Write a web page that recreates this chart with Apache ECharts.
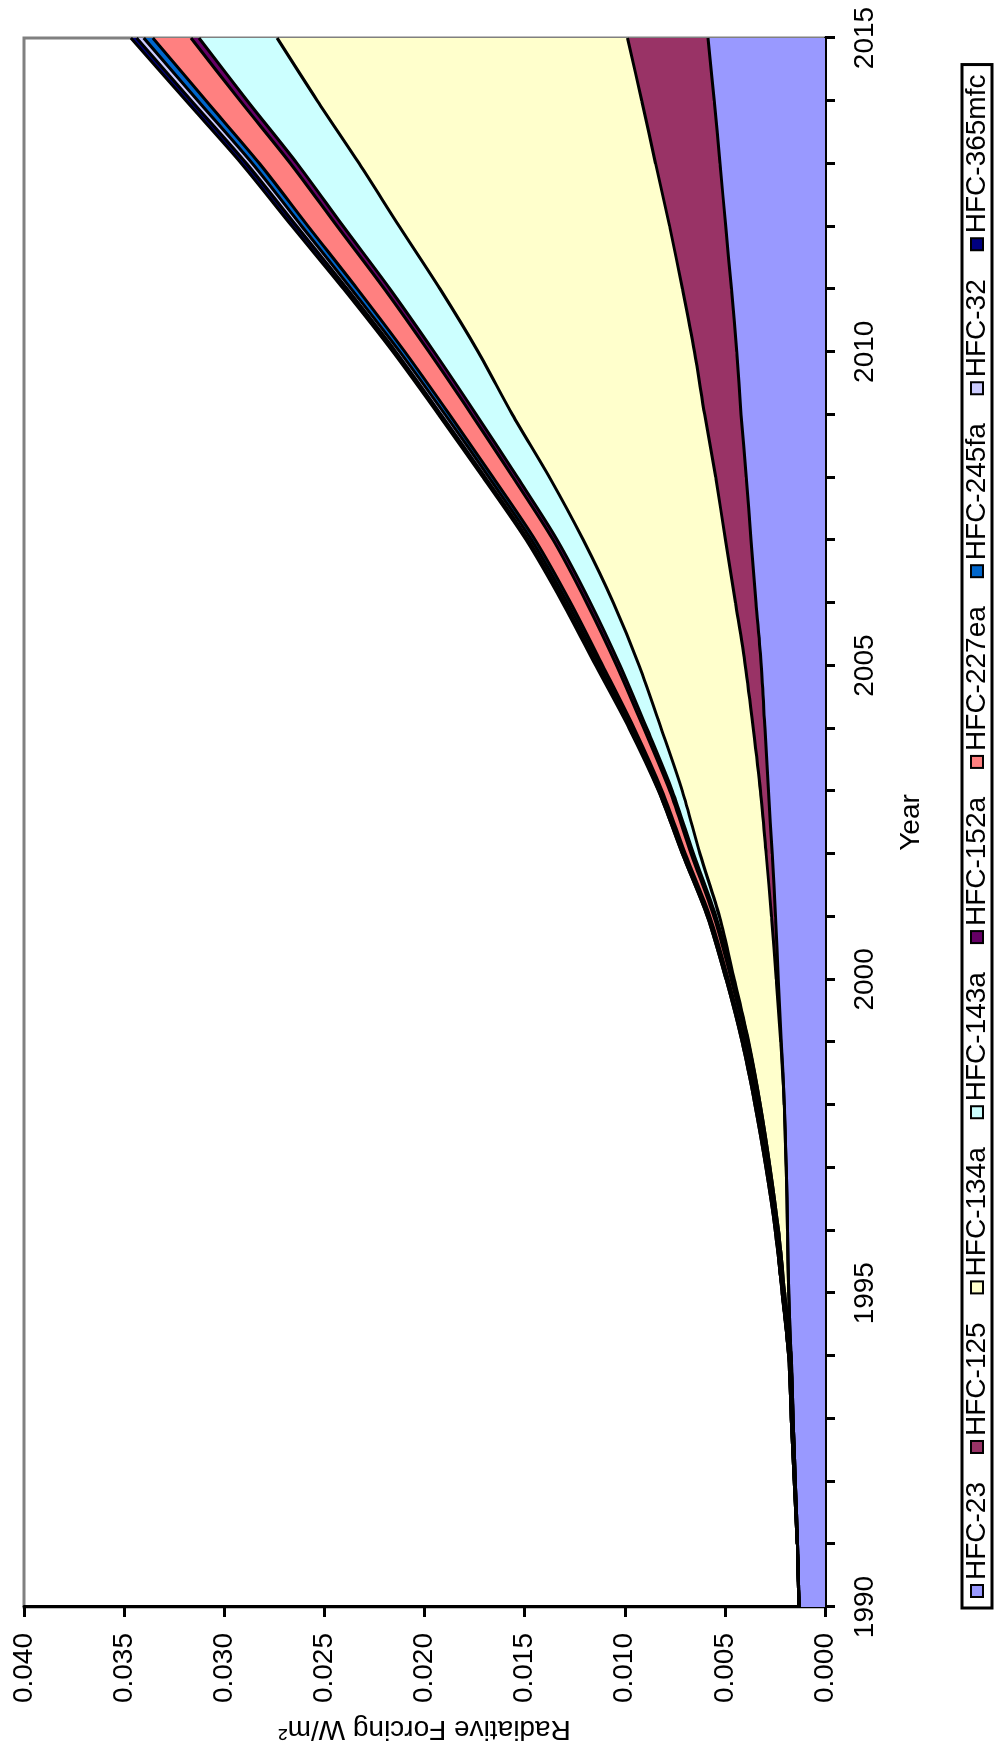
<!DOCTYPE html>
<html>
<head>
<meta charset="utf-8">
<script src="https://cdn.jsdelivr.net/npm/echarts@6/dist/echarts.min.js"></script>
<style>
  html, body { margin: 0; padding: 0; background: #fff; overflow: hidden; }
  #page { position: absolute; left: 0; top: 0; width: 1003px; height: 1753px; overflow: hidden; background: #fff; }
  /* the chart is laid out landscape and turned a quarter turn counter-clockwise */
  #chart { position: absolute; left: 0; top: 0; width: 1753px; height: 1003px;
           transform-origin: 0 0; transform: translate(0, 1753px) rotate(-90deg); }
</style>
</head>
<body>
<div id="page"><div id="chart"></div></div>
<script>
// Radiative forcing of HFCs (W/m²), stacked by species, 1990-2015
const years = ['1990','1991','1992','1993','1994','1995','1996','1997','1998','1999',
               '2000','2001','2002','2003','2004','2005','2006','2007','2008','2009',
               '2010','2011','2012','2013','2014','2015'];

const hfc23    = [0.00130,0.00137,0.00148,0.00160,0.00170,0.00181,0.00187,0.00194,0.00203,0.00218,
                  0.00233,0.00247,0.00264,0.00282,0.00300,0.00318,0.00344,0.00369,0.00393,0.00419,
                  0.00441,0.00467,0.00496,0.00524,0.00553,0.00584];
const hfc125   = [0,0,0,0,0,0,0,0,0,0.00003,
                  0.00010,0.00020,0.00030,0.00040,0.00058,0.00080,0.00103,0.00128,0.00153,0.00182,
                  0.00211,0.00245,0.00280,0.00322,0.00362,0.00402];
const hfc134a  = [0,0,0,0,0,0.00020,0.00045,0.00080,0.00120,0.00160,
                  0.00210,0.00260,0.00330,0.00390,0.00460,0.00530,0.00610,0.00710,0.00830,0.00960,
                  0.01080,0.01210,0.01350,0.01480,0.01620,0.01750];
const hfc143a  = [0,0,0,0,0,0,0,0,0,0.00002,
                  0.00005,0.00017,0.00032,0.00050,0.00072,0.00095,0.00114,0.00130,0.00160,0.00180,
                  0.00220,0.00250,0.00280,0.00310,0.00350,0.00390];
const hfc152a  = [0,0.00002,0.00004,0.00005,0.00006,0.00006,0.00007,0.00008,0.00009,0.00010,
                  0.00010,0.00011,0.00012,0.00013,0.00015,0.00017,0.00019,0.00020,0.00022,0.00024,
                  0.00026,0.00028,0.00030,0.00033,0.00036,0.00040];
const hfc227ea = [0,0,0.00002,0.00004,0.00005,0.00006,0.00007,0.00008,0.00010,0.00012,
                  0.00015,0.00020,0.00030,0.00038,0.00048,0.00070,0.00080,0.00090,0.00100,0.00110,
                  0.00120,0.00135,0.00145,0.00155,0.00170,0.00190];
const hfc245fa = [0,0,0,0,0,0,0,0.00002,0.00004,0.00005,
                  0.00006,0.00007,0.00008,0.00010,0.00012,0.00014,0.00016,0.00018,0.00020,0.00022,
                  0.00025,0.00030,0.00032,0.00036,0.00041,0.00046];
const hfc32    = [0,0,0,0,0,0,0.00002,0.00003,0.00004,0.00004,
                  0.00005,0.00005,0.00006,0.00006,0.00007,0.00012,0.00014,0.00016,0.00018,0.00020,
                  0.00020,0.00021,0.00025,0.00029,0.00032,0.00036];
const hfc365mfc= [0,0,0,0,0,0,0,0,0,0,
                  0,0,0,0.00002,0.00006,0.00009,0.00010,0.00011,0.00012,0.00013,
                  0.00015,0.00018,0.00023,0.00025,0.00027,0.00028];

const seriesNames = ['HFC-23','HFC-125','HFC-134a','HFC-143a','HFC-152a',
                     'HFC-227ea','HFC-245fa','HFC-32','HFC-365mfc'];
const seriesValues = [hfc23, hfc125, hfc134a, hfc143a, hfc152a, hfc227ea, hfc245fa, hfc32, hfc365mfc];

const valueTicks = { min: 0, max: 0.040, step: 0.005 };

// fill colours of the stacked bands, bottom to top
const fills = ['#9999FF','#993366','#FFFFCC','#CCFFFF','#660066',
               '#FF8080','#0066CC','#CCCCFF','#000080'];

const FONT = '"Liberation Sans", Arial, sans-serif';
const FS = 28;
const SMOOTH = 0.3;

const series = [];
// filled bands
seriesNames.forEach((name, i) => {
  series.push({
    name: name,
    type: 'line',
    stack: 'bands',
    data: seriesValues[i],
    color: fills[i],
    smooth: SMOOTH,
    showSymbol: false,
    symbol: 'none',
    silent: true,
    lineStyle: { width: 0, color: fills[i] },
    areaStyle: { color: fills[i], opacity: 1 },
    z: 2,
    animation: false
  });
});
// black outlines on top of every band
seriesNames.forEach((name, i) => {
  series.push({
    name: name + ' outline',
    type: 'line',
    stack: 'outlines',
    data: seriesValues[i],
    smooth: SMOOTH,
    showSymbol: false,
    symbol: 'none',
    silent: true,
    lineStyle: { width: 3, color: '#000' },
    z: 3,
    animation: false
  });
});

const chart = echarts.init(document.getElementById('chart'), null, { renderer: 'canvas' });
chart.setOption({
  animation: false,
  backgroundColor: '#fff',
  grid: {
    left: 146, right: 38, top: 24, bottom: 178,
    show: true, borderColor: '#808080', borderWidth: 3, backgroundColor: '#fff'
  },
  legend: {
    data: seriesNames,
    left: 145, top: 962,
    orient: 'horizontal',
    icon: 'rect',
    itemWidth: 12, itemHeight: 12,
    itemGap: 28,
    padding: [1, 10, 1, 10],
    borderColor: '#000', borderWidth: 3,
    itemStyle: { borderColor: '#000', borderWidth: 2 },
    textStyle: { color: '#000', fontSize: FS, fontFamily: FONT }
  },
  xAxis: {
    type: 'category',
    data: years,
    boundaryGap: false,
    name: 'Year',
    nameLocation: 'middle',
    nameGap: 72,
    nameTextStyle: { color: '#000', fontSize: FS, fontFamily: FONT },
    axisLine: { show: true, lineStyle: { color: '#000', width: 3 } },
    axisTick: { show: true, interval: 0, length: 10, lineStyle: { color: '#000', width: 3 } },
    axisLabel: { interval: 4, margin: 26, color: '#000', fontSize: FS, fontFamily: FONT },
    splitLine: { show: false }
  },
  yAxis: {
    type: 'value',
    min: valueTicks.min, max: valueTicks.max, interval: valueTicks.step,
    name: 'Radiative Forcing W/m²',
    nameLocation: 'middle',
    nameRotate: 90,
    nameGap: 108,
    nameTextStyle: { color: '#000', fontSize: FS, fontFamily: FONT },
    axisLine: { show: true, lineStyle: { color: '#000', width: 3 } },
    axisTick: { show: true, length: 10, lineStyle: { color: '#000', width: 3 } },
    axisLabel: { margin: 26, color: '#000', fontSize: FS, fontFamily: FONT,
                 formatter: v => v.toFixed(3) },
    splitLine: { show: false }
  },
  series: series
});
</script>
</body>
</html>
